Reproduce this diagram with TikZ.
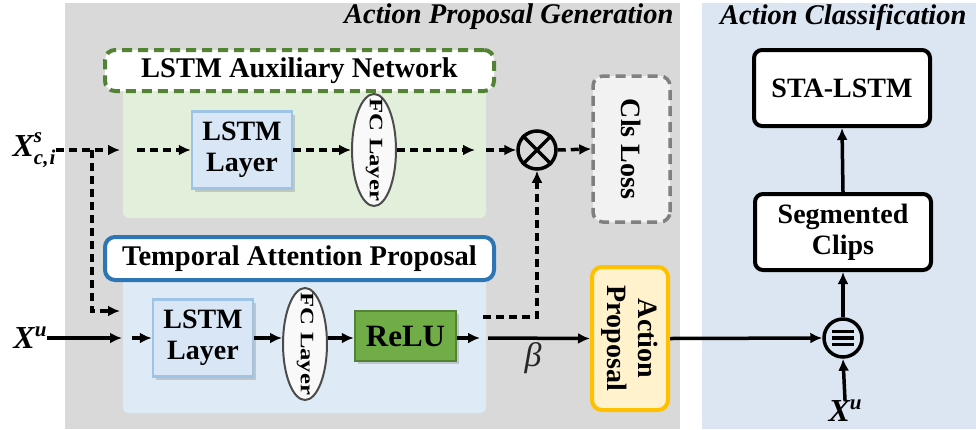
\documentclass[tikz,border=0pt]{standalone}
\usepackage{fontspec}
\setmainfont{Liberation Serif}
\usetikzlibrary{arrows.meta,shapes.geometric,shadows,calc}
\definecolor{pgray}{HTML}{D9D9D9}
\definecolor{pblue}{HTML}{DCE6F2}
\definecolor{gfill}{HTML}{E2EFDA}
\definecolor{bfill}{HTML}{DEEBF7}
\definecolor{lfill}{HTML}{D9E6F5}
\definecolor{lborder}{HTML}{9DC3E6}
\definecolor{rfill}{HTML}{70AD47}
\definecolor{rborder}{HTML}{548235}
\definecolor{yfill}{HTML}{FFF2CC}
\definecolor{yborder}{HTML}{FFC000}
\definecolor{gdash}{HTML}{548235}
\definecolor{tborder}{HTML}{2E75B6}
\definecolor{clsfill}{HTML}{F2F2F2}
\definecolor{clsborder}{HTML}{808080}
\tikzset{
  big/.style={font=\fontsize{28}{31}\selectfont\bfseries},
  lstmbox/.style={big, draw=lborder, line width=2.5pt, fill=lfill, minimum width=100pt, minimum height=77pt, align=center, inner sep=2pt,
     drop shadow={shadow xshift=3pt, shadow yshift=-3pt, opacity=0.35}},
  fcnode/.style={ellipse, draw=black!70, line width=2pt, fill=white!95!gray, minimum width=44pt, minimum height=112pt, inner sep=0pt},
  outbox/.style={big, draw=black, line width=4pt, rounded corners=8pt, fill=white, minimum width=176pt, minimum height=76pt, align=center},
  opcirc/.style={circle, draw=black, line width=3.5pt, minimum size=38pt, inner sep=0pt, fill=none},
  darr/.style={line width=3.5pt, dash pattern=on 8pt off 5pt, -{Latex[length=12pt,width=11pt]}},
  sarr/.style={line width=3.5pt, -{Latex[length=12pt,width=11pt]}},
  titletext/.style={font=\fontsize{28.5}{31}\selectfont\bfseries\itshape},
}
\begin{document}
\begin{tikzpicture}[x=1pt,y=-1pt]
\useasboundingbox (0,0) rectangle (976,429);
% panels
\fill[pgray] (65,3) rectangle (680,429);
\fill[pblue] (702,3) rectangle (976,429);
\node[titletext, anchor=east] (t1) at (677,17) {Action Proposal Generation};
\node[titletext, anchor=east] (t2) at (970,17) {Action Classification};
% green and blue regions
\fill[gfill, rounded corners=6pt] (123,70) rectangle (486,218);
\fill[bfill, rounded corners=6pt] (123,262) rectangle (486,413);
\node[big, font=\fontsize{28.5}{31}\selectfont\bfseries, draw=gdash, line width=4pt, dash pattern=on 10pt off 6pt, rounded corners=10pt, fill=white, minimum width=389pt, minimum height=41pt, inner sep=0pt] (aux) at (299.5,70.5) {LSTM Auxiliary Network};
\node[big, font=\fontsize{28.5}{31}\selectfont\bfseries, draw=tborder, line width=4pt, rounded corners=10pt, fill=white, minimum width=389pt, minimum height=43pt, inner sep=0pt] (tap) at (299.5,258.5) {Temporal Attention Proposal};
% top row
\node[lstmbox] (lstm1) at (242,150) {LSTM\\Layer};
\node[fcnode] (fc1) at (374,150) {};
\node[rotate=-90] (fc1t) at (fc1) {\scalebox{1.3}[1]{\fontsize{19}{19}\selectfont\bfseries FC Layer}};
\node[opcirc] (mul) at (537,150) {};
\draw[line width=3.5pt] (mul.north east) -- (mul.south west) (mul.north west) -- (mul.south east);
\node[big, rotate=-90, draw=clsborder, line width=3.5pt, dash pattern=on 10pt off 6pt, rounded corners=10pt, fill=clsfill, minimum width=146pt, minimum height=77pt, inner sep=0pt] (cls) at (631.5,149) {Cls Loss};
% bottom row
\node[lstmbox] (lstm2) at (203,338) {LSTM\\Layer};
\node[fcnode] (fc2) at (305,344) {};
\node[rotate=-90] (fc2t) at (fc2) {\scalebox{1.3}[1]{\fontsize{19}{19}\selectfont\bfseries FC Layer}};
\node[font=\fontsize{31}{33}\selectfont\bfseries, draw=rborder, line width=2.5pt, fill=rfill, minimum width=101pt, minimum height=50pt, inner sep=0pt, drop shadow={shadow xshift=3pt, shadow yshift=-3pt, opacity=0.35}] (relu) at (405.5,336) {ReLU};
\node[big, rotate=-90, draw=yborder, line width=4pt, rounded corners=10pt, fill=yfill, minimum width=143pt, minimum height=76pt, align=center, inner sep=0pt] (ap) at (630,338.5) {Action\\Proposal};
% right panel
\node[opcirc] (merge) at (843,338) {};
\draw[line width=3.5pt] ($(merge.center)+(-11,-6.5)$) -- ++(22,0) ($(merge.center)+(-11,0)$) -- ++(22,0) ($(merge.center)+(-11,6.5)$) -- ++(22,0);
\node[outbox] (seg) at (843,232) {Segmented\\Clips};
\node[outbox] (sta) at (842,88) {STA-LSTM};
% inputs
\node[font=\fontsize{32}{34}\selectfont\bfseries\itshape, inner sep=0pt] (xs) at (34,150) {X\rlap{\raisebox{14pt}{\fontsize{21}{21}\selectfont s}}\raisebox{-8pt}{\fontsize{21}{21}\selectfont c,\kern1pt i}};
\node[font=\fontsize{32}{34}\selectfont\bfseries\itshape, inner sep=0pt] (xu) at (30,338) {X\raisebox{12pt}{\fontsize{21}{21}\selectfont u}};
\node[font=\fontsize{32}{34}\selectfont\bfseries\itshape, inner sep=0pt] (xu2) at (845,411) {X\raisebox{12pt}{\fontsize{21}{21}\selectfont u}};
\node[font=\fontsize{34}{36}\selectfont\itshape, text=black!85] (beta) at (533,358) {β};
% coordinates
\coordinate (g1) at (120,150);
\coordinate (g2) at (137,150);
\coordinate (br) at (92,150);
\coordinate (tin) at (120,311);
\coordinate (f1) at (475,150);
\coordinate (f2) at (486,150);
\coordinate (b1) at (122,338);
\coordinate (b2) at (132,338);
\coordinate (r1) at (480,338);
\coordinate (r2) at (488,338);
\coordinate (d1) at (483,317);
% connectors
\draw[darr] (xs.east) -- (g1);
\draw[darr] (g2) -- (lstm1.west);
\draw[darr] (br) |- (tin);
\draw[darr] (lstm1.east) -- (fc1.west);
\draw[darr] (fc1.east) -- (f1);
\draw[darr] (f2) -- (mul.west);
\draw[darr] (mul.east) -- (cls.south);
\draw[darr] (d1) -| (mul.south);
\draw[sarr] (xu.east) -- (b1);
\draw[sarr] (b2) -- (lstm2.west);
\draw[sarr] (lstm2.east) -- (fc2.west |- lstm2.east);
\draw[sarr] (fc2.east |- lstm2.east) -- (relu.west |- lstm2.east);
\draw[sarr] (relu.east |- lstm2.east) -- (r1);
\draw[sarr] (r2) -- (ap.south);
\draw[sarr] (ap.north) -- (merge.west);
\draw[sarr] (xu2.north) -- (merge.south);
\draw[sarr] (merge.north) -- (seg.south);
\draw[sarr] (seg.north) -- (sta.south);
\end{tikzpicture}
\end{document}
